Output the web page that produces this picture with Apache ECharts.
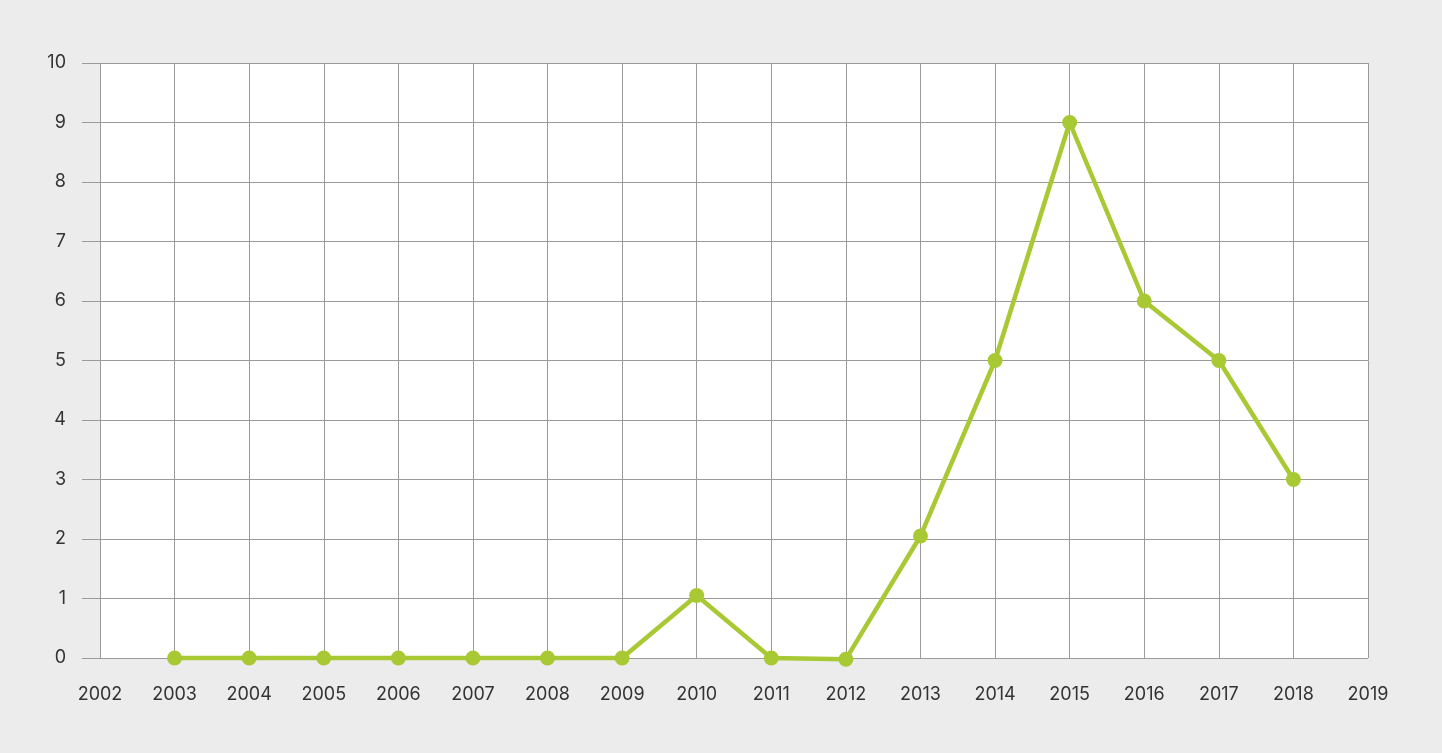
<!DOCTYPE html>
<html><head><meta charset="utf-8">
<script src="https://cdn.jsdelivr.net/npm/echarts@6/dist/echarts.min.js"></script>
<style>html,body{margin:0;padding:0;background:#ececec}#c{width:1442px;height:753px}</style>
</head><body><div id="c"></div>
<script>
const years = [2003,2004,2005,2006,2007,2008,2009,2010,2011,2012,2013,2014,2015,2016,2017,2018];
const values = [0,0,0,0,0,0,0,1.05,0,-0.02,2.05,5,9,6,5,3];
const xMin = 2002, xMax = 2019;
const yMin = 0, yMax = 10;
const chart = echarts.init(document.getElementById('c'));
chart.setOption({
  backgroundColor: '#ececec',
  animation: false,
  grid: {left: 100, right: 74, top: 63, bottom: 95, show: true, backgroundColor: '#ffffff', borderWidth: 0},
  xAxis: {
    type: 'value', min: xMin, max: xMax, interval: 1,
    axisLine: {show: false}, axisTick: {show: false},
    splitLine: {show: true, lineStyle: {color: '#9a9a9a', width: 1}},
    axisLabel: {color: '#333', fontSize: 18, fontFamily: 'Inter', margin: 28, formatter: v => String(v)}
  },
  yAxis: {
    type: 'value', min: yMin, max: yMax, interval: 1,
    axisLine: {show: false},
    axisTick: {show: true, length: 18, lineStyle: {color: '#9a9a9a'}},
    splitLine: {show: true, lineStyle: {color: '#9a9a9a', width: 1}},
    axisLabel: {color: '#333', fontSize: 18, fontFamily: 'Inter', margin: 34}
  },
  series: [{
    type: 'line',
    data: years.map((y, i) => [y, values[i]]),
    lineStyle: {color: '#a8c934', width: 4.5},
    itemStyle: {color: '#a8c934'},
    symbol: 'circle', symbolSize: 15,
    clip: false
  }]
});
</script></body></html>
